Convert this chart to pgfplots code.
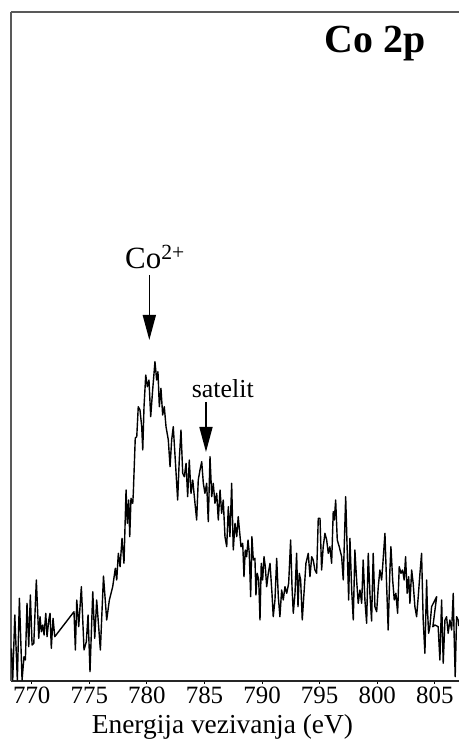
\documentclass[border=0pt]{standalone}
\usepackage{fontspec}
\setmainfont{Liberation Serif}
\usepackage{pgfplots}
\pgfplotsset{compat=1.18}
\usetikzlibrary{arrows.meta}

% Co 2p XPS spectrum: binding energy (eV) vs. intensity (arb. units)
\pgfplotstableread{
x y
768.23 32.7
768.35 1
768.53 66
768.75 1
768.93 82.7
769.16 1
769.33 24.3
769.45 21
769.59 77.7
769.74 34.3
769.88 86
770.03 36
770.18 37.7
770.40 101
770.61 42.7
770.72 64.3
770.84 49.3
770.96 56
771.07 46
771.22 67.7
771.33 44.3
771.48 61
771.59 67.7
771.70 32.7
771.85 62.7
772.00 44.3
773.67 69.3
773.79 31
773.91 81
774.08 54.3
774.31 94.3
774.54 31
774.74 39.3
774.89 66
775.06 9.3
775.30 89.3
775.47 42.7
775.64 81
775.96 31
776.23 105
776.51 61
776.74 81
777.03 94.3
777.26 112.7
777.38 101
777.52 127.7
777.67 114.3
777.84 142.7
778.01 117.7
778.19 191
778.30 157.7
778.42 181
778.51 144.3
778.62 182.7
778.77 177.7
778.82 187.7
778.99 243
779.12 244.3
779.25 274.3
779.40 271
779.55 254.3
779.64 231
779.75 274.3
779.90 306
780.04 294.3
780.18 301
780.33 264.3
780.50 291
780.70 319.3
780.85 301
780.96 309.3
781.08 274.3
781.22 292.7
781.37 266
781.51 274.3
781.66 254.3
781.86 241
782.01 214.3
782.15 241
782.29 254.3
782.50 214.3
782.67 181
782.81 221
782.96 251
783.11 207.7
783.25 204.3
783.40 217.7
783.54 184.3
783.68 221
783.83 187.7
783.98 201
784.12 184.3
784.32 161
784.46 201
784.61 211
784.76 219.3
784.90 197.7
785.04 187.7
785.19 197.7
785.33 159.3
785.48 224.3
785.63 184.3
785.76 197.7
785.91 177.7
786.06 187.7
786.20 161
786.35 191
786.49 167.7
786.63 181
786.78 144.3
786.93 134.3
787.07 174.3
787.21 144.3
787.36 197.7
787.50 131
787.65 157.7
787.80 144.3
787.93 164.3
788.17 134.3
788.32 137.7
788.43 104.3
788.54 131
788.66 124.3
788.78 141
788.89 127.7
789.01 84.3
789.12 144.3
789.24 121
789.38 122.7
789.47 86
789.58 107.7
789.71 101
789.82 61
789.93 117.7
790.05 101
790.17 124.3
790.28 114.3
790.40 94.3
790.54 107.7
790.69 117.7
790.86 87.7
790.97 64.3
791.12 81
791.27 122.7
791.41 84.3
791.55 64.3
791.70 91
791.84 81
791.99 94.3
792.14 87.7
792.31 97.7
792.48 141
792.60 94.3
792.71 67.7
792.86 87.7
793.00 127.7
793.12 74.3
793.23 107.7
793.35 101
793.49 61
793.64 87.7
793.81 117.7
794.01 127.7
794.16 104.3
794.31 124.3
794.44 121
794.59 111
794.74 107.7
794.88 162.7
795.03 162.7
795.17 111
795.31 134.3
795.46 147.7
795.61 141
795.75 127.7
795.89 134.3
796.04 117.7
796.18 169.3
796.27 161
796.39 181
796.53 141
796.70 134.3
796.91 124.3
797.05 101
797.26 184.3
797.40 127.7
797.52 81
797.63 142.7
797.78 91
797.92 61
798.06 131
798.21 101
798.35 77.7
798.50 91
798.65 77.7
798.78 121
798.93 81
799.08 57.7
799.22 127.7
799.37 86
799.51 60
799.65 127.7
799.80 74.3
799.95 69.3
800.09 94.3
800.23 111
800.38 101
800.47 114.3
800.67 147.7
800.82 94.3
800.95 51
801.10 111
801.19 134.3
801.34 101
801.48 81
801.62 87.7
801.77 67.7
801.91 114.3
802.06 107.7
802.20 111
802.34 101
802.46 124.3
802.60 87.7
802.73 104.3
802.84 77.7
802.99 111
803.12 97.7
803.27 74.3
803.42 64.3
803.56 84.3
803.71 107.7
803.85 127.7
803.99 61
804.14 27.7
804.29 101
804.34 77.7
804.46 47.7
804.57 54.3
804.72 74.3
805.16 84.3
804.83 54.3
805.01 56
805.29 54.3
805.44 21
805.59 81
805.73 17.7
805.88 61
806.02 64.3
806.16 47.7
806.31 61
806.46 51
806.60 87.7
806.68 44.3
806.77 4.3
806.89 64.3
807.03 61
807.09 55
}\spectrum

\begin{document}
\begin{tikzpicture}
\begin{axis}[
  name=ax,
  width=448bp, height=669bp, scale only axis,
  xmin=768.2, xmax=807.1, ymin=0, ymax=669,
  axis x line=bottom, axis y line=left,
  axis line style={-},
  x axis line style={line width=1.8bp, black!85},
  y axis line style={line width=1.3bp, black!65},
  xtick={770,775,...,805},
  ytick=\empty,
  tick align=outside,
  major tick length=3bp,
  every tick/.style={black, line width=0.8bp},
  /pgf/number format/assume math mode=true,
  xticklabel style={font=\fontsize{25}{25}\selectfont, inner sep=0pt, yshift=-3bp},
  xlabel={Energija vezivanja (eV)},
  xlabel style={font=\fontsize{27.5}{27.5}\selectfont, at={(axis description cs:0.472,0)}, anchor=base, yshift=-52bp},
  clip mode=individual,
]
\addplot[black, line width=1.4bp, line join=round] table {\spectrum};

% top frame line
\draw[line width=1.3bp, black!65] (rel axis cs:0,1) -- (rel axis cs:1,1);

% panel title
\node[anchor=base west, font=\fontsize{40}{40}\selectfont\bfseries, inner sep=0pt]
  at (axis cs:795.40,628) {Co 2p};

% peak annotations
\node[anchor=base west, font=\fontsize{31}{31}\selectfont, inner sep=0pt]
  at (axis cs:778.10,412) {Co\textsuperscript{2+}};
\draw[-{Triangle[width=13bp,length=25bp]}, line width=1.6bp]
  (axis cs:780.21,406) -- (axis cs:780.21,341);

\node[anchor=base west, font=\fontsize{26}{26}\selectfont, inner sep=0pt]
  at (axis cs:783.89,283) {satelit};
\draw[-{Triangle[width=13bp,length=25bp]}, line width=1.6bp]
  (axis cs:785.13,279) -- (axis cs:785.13,229);
\end{axis}
\pgfresetboundingbox
\path[use as bounding box] ([shift={(-11bp,-72bp)}]ax.south west) rectangle ([shift={(0bp,12bp)}]ax.north east);
\end{tikzpicture}
\end{document}
